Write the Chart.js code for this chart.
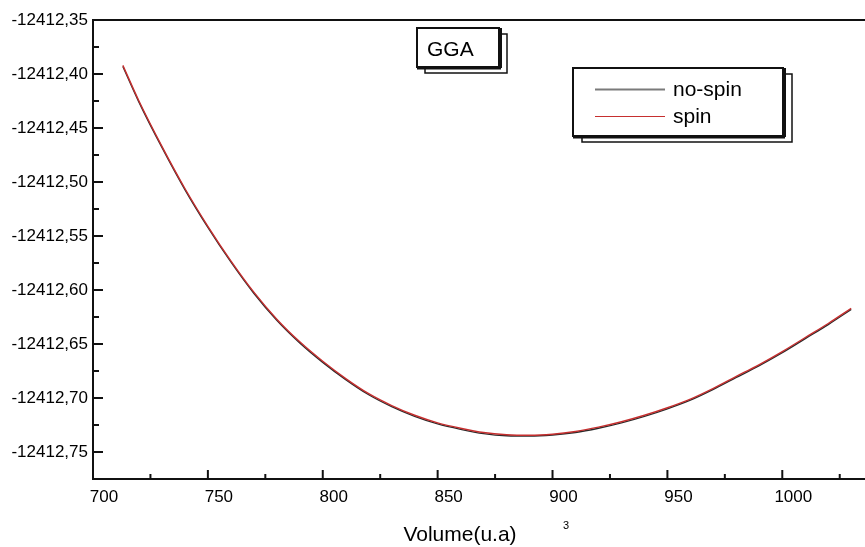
<!DOCTYPE html>
<html>
<head>
<meta charset="utf-8">
<script src="https://cdn.jsdelivr.net/npm/chart.js@4"></script>
<style>
  html, body { margin: 0; padding: 0; background: #fff; }
</style>
</head>
<body>
<canvas id="eosChart" width="865" height="547"></canvas>
<script>
// Volume (u.a^3) and total energy for both calculations
const volumes = [713, 720, 730, 740, 750, 760, 770, 780, 790, 800, 810, 820, 830, 840, 850, 860, 870, 880, 890, 900, 910, 920, 930, 940, 950, 960, 970, 980, 990, 1000, 1010, 1020, 1030];
const energySpin = [-12412.392, -12412.425, -12412.467, -12412.506, -12412.541, -12412.573, -12412.602, -12412.627, -12412.648, -12412.666, -12412.682, -12412.696, -12412.707, -12412.716, -12412.723, -12412.728, -12412.732, -12412.734, -12412.7345, -12412.7335, -12412.731, -12412.727, -12412.722, -12412.716, -12412.709, -12412.701, -12412.691, -12412.680, -12412.669, -12412.657, -12412.644, -12412.631, -12412.617];
const energyNoSpin = [-12412.393, -12412.426, -12412.468, -12412.507, -12412.542, -12412.574, -12412.603, -12412.628, -12412.649, -12412.667, -12412.683, -12412.697, -12412.708, -12412.717, -12412.724, -12412.729, -12412.733, -12412.735, -12412.7353, -12412.7343, -12412.732, -12412.728, -12412.723, -12412.717, -12412.710, -12412.702, -12412.692, -12412.681, -12412.670, -12412.658, -12412.645, -12412.632, -12412.618];

const seriesNames = ['no-spin', 'spin'];
const boxLabel = 'GGA';
const xTitle = 'Volume(u.a)';

// axis ticks
const xTicks = [700, 750, 800, 850, 900, 950, 1000];
const xMinorTicks = [725, 775, 825, 875, 925, 975, 1025];
const yTicks = [-12412.35, -12412.40, -12412.45, -12412.50, -12412.55, -12412.60, -12412.65, -12412.70, -12412.75];
const yMinorTicks = [-12412.375, -12412.425, -12412.475, -12412.525, -12412.575, -12412.625, -12412.675, -12412.725];

const FONT = "'Liberation Sans', Arial, sans-serif";

function toPoints(xs, ys) {
    return xs.map((v, i) => ({ x: v, y: ys[i] }));
}

function strokeLine(ctx, x1, y1, x2, y2) {
    ctx.beginPath();
    ctx.moveTo(x1, y1);
    ctx.lineTo(x2, y2);
    ctx.stroke();
}

// box with the offset "shadow" outline like the original plot
function shadowBox(ctx, x, y, w, h, dx, dy) {
    ctx.strokeStyle = '#111';
    ctx.lineWidth = 1.5;
    ctx.strokeRect(x + dx, y + dy, w, h);
    ctx.fillStyle = '#fff';
    ctx.fillRect(x, y, w, h);
    ctx.lineWidth = 2;
    ctx.strokeRect(x, y, w, h);
    strokeLine(ctx, x + w + 2, y, x + w + 2, y + h + 1);
    strokeLine(ctx, x, y + h + 1.5, x + w + 2, y + h + 1.5);
}

const decorPlugin = {
    id: 'decor',
    afterDraw(chart) {
        const { ctx, chartArea: a, scales: { x, y } } = chart;
        ctx.save();
        ctx.strokeStyle = '#111';
        ctx.lineCap = 'butt';

        // top frame line
        ctx.lineWidth = 2;
        strokeLine(ctx, a.left, a.top, a.right, a.top);

        // inward ticks
        yTicks.forEach(v => { const py = y.getPixelForValue(v); strokeLine(ctx, a.left, py, a.left + 10, py); });
        yMinorTicks.forEach(v => { const py = y.getPixelForValue(v); strokeLine(ctx, a.left, py, a.left + 6, py); });
        xTicks.forEach(v => { const px = x.getPixelForValue(v); strokeLine(ctx, px, a.bottom, px, a.bottom - 9); });
        xMinorTicks.forEach(v => { const px = x.getPixelForValue(v); strokeLine(ctx, px, a.bottom, px, a.bottom - 5); });

        // GGA label box
        shadowBox(ctx, 417, 28, 82, 39, 8, 6);
        ctx.fillStyle = '#000';
        ctx.font = '21px ' + FONT;
        ctx.textBaseline = 'middle';
        ctx.textAlign = 'left';
        ctx.fillText(boxLabel, 427, 50);

        // legend
        shadowBox(ctx, 573, 68, 210, 68, 9, 6);
        const rows = [89.5, 116.5];
        chart.data.datasets.forEach((d, i) => {
            ctx.strokeStyle = d.legendColor;
            ctx.lineWidth = d.legendWidth;
            strokeLine(ctx, 595, rows[i], 665, rows[i]);
            ctx.fillStyle = '#000';
            ctx.font = '21px ' + FONT;
            ctx.fillText(d.label, 673, rows[i] + 1);
        });

        // x axis title with the detached exponent
        ctx.fillStyle = '#000';
        ctx.textAlign = 'center';
        ctx.textBaseline = 'alphabetic';
        ctx.font = '21px ' + FONT;
        ctx.fillText(xTitle, 460, 541);
        ctx.font = '11px ' + FONT;
        ctx.fillText('3', 566, 529);
        ctx.restore();
    }
};

new Chart(document.getElementById('eosChart').getContext('2d'), {
    type: 'line',
    data: {
        datasets: [{
            label: seriesNames[0],
            data: toPoints(volumes, energyNoSpin),
            borderColor: '#2a2a2a',
            legendColor: '#7a7a7a',
            legendWidth: 2,
            borderWidth: 1.4,
            pointRadius: 0,
            cubicInterpolationMode: 'monotone',
            order: 1
        }, {
            label: seriesNames[1],
            data: toPoints(volumes, energySpin),
            borderColor: '#c62f2f',
            legendColor: '#c62f2f',
            legendWidth: 1,
            borderWidth: 1.4,
            pointRadius: 0,
            cubicInterpolationMode: 'monotone',
            order: 0
        }]
    },
    options: {
        responsive: false,
        animation: false,
        layout: { padding: { top: 20, right: 0, left: 0, bottom: 0 } },
        plugins: {
            legend: { display: false },
            tooltip: { enabled: false }
        },
        scales: {
            x: {
                type: 'linear',
                min: 700,
                max: 1036,
                grid: { display: false, drawTicks: false },
                border: { display: true, color: '#111', width: 2 },
                afterBuildTicks: s => { s.ticks = xTicks.map(v => ({ value: v })); },
                afterFit: s => { s.height = 68; },
                ticks: {
                    color: '#000',
                    font: { family: FONT, size: 17 },
                    padding: 8,
                    labelOffset: 11,
                    maxRotation: 0,
                    autoSkip: false,
                    callback: v => String(v)
                }
            },
            y: {
                type: 'linear',
                min: -12412.775,
                max: -12412.35,
                grid: { display: false, drawTicks: false },
                border: { display: true, color: '#111', width: 2 },
                afterBuildTicks: s => { s.ticks = yTicks.map(v => ({ value: v })); },
                afterFit: s => { s.width = 93; },
                ticks: {
                    color: '#000',
                    font: { family: FONT, size: 17 },
                    padding: 5,
                    autoSkip: false,
                    callback: v => v.toFixed(2).replace('.', ',')
                }
            }
        }
    },
    plugins: [decorPlugin]
});
</script>
</body>
</html>
